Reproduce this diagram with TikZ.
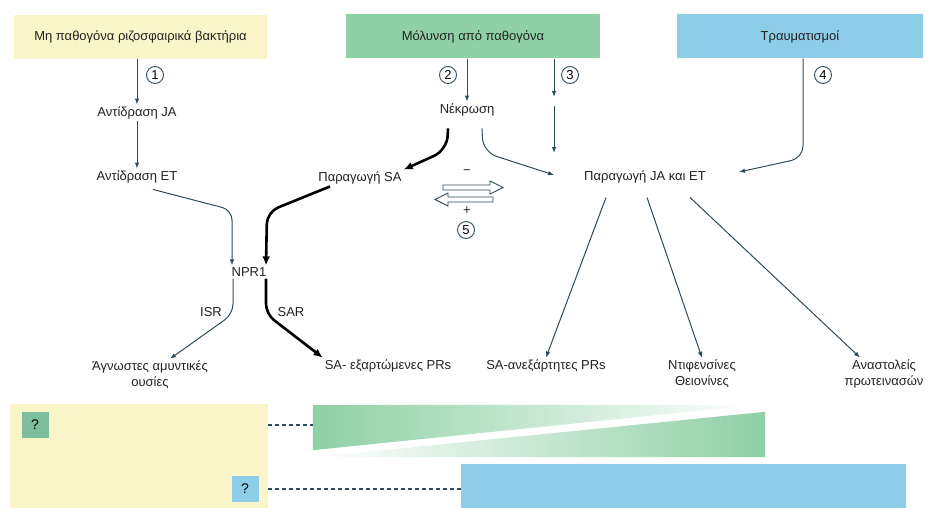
\documentclass[tikz,border=0pt]{standalone}
\usepackage{fontspec}
\setmainfont{Liberation Sans}
\usetikzlibrary{arrows.meta}
\definecolor{kitrino}{HTML}{FAF5C8}
\definecolor{prasino}{HTML}{8FD0A6}
\definecolor{ble}{HTML}{8ECDE8}
\definecolor{qprasino}{HTML}{7DBE9C}
\definecolor{grammi}{HTML}{2E4B5A}
\definecolor{keimeno}{HTML}{222222}
\tikzset{
  aitio/.style   = {rectangle, minimum height=44pt, inner sep=0, text=keimeno, font=\fontsize{13}{15}\selectfont},
  keim/.style    = {inner sep=2pt, align=center, text=keimeno, font=\fontsize{13}{16}\selectfont},
  arith/.style   = {circle, draw=grammi, line width=0.9pt, inner sep=0, minimum size=17pt, font=\fontsize{13}{15}\selectfont},
  lept/.style    = {draw=grammi, line width=1pt, -{Latex[length=6pt,width=4.5pt]}},
  pachy/.style   = {draw=black, line width=2.6pt, -{Latex[length=9pt,width=8pt]}},
  anoixto/.style = {draw=grammi, fill=white, line width=0.9pt, line join=miter},
  erot/.style    = {rectangle, inner sep=0, minimum width=27pt, minimum height=26pt, font=\fontsize{14}{16}\selectfont},
  diak/.style    = {draw=grammi, line width=1.2pt, dash pattern=on 4pt off 3pt},
  perioxi/.style = {rectangle, inner sep=0}
}
\begin{document}
\begin{tikzpicture}[x=1pt, y=-1pt]
  \useasboundingbox (0,0) rectangle (925,508);

  % ---------- aities (pano) ----------
  \node[aitio, fill=kitrino, minimum width=253pt] (bakt) at (140.5,37)  {Μη παθογόνα ριζοσφαιρικά βακτήρια};
  \node[aitio, fill=prasino, minimum width=254pt] (mol)  at (473,36.5)  {Μόλυνση από παθογόνα};
  \node[aitio, fill=ble,     minimum width=246pt] (trav) at (800,36.5)  {Τραυματισμοί};

  % ---------- endiamesa ----------
  \node[keim] (ja)   at (137,113) {Αντίδραση JA};
  \node[keim] (et)   at (137,177) {Αντίδραση ET};
  \node[keim] (nek)  at (467,110) {Νέκρωση};
  \node[keim] (sa)   at (360,178) {Παραγωγή SA};
  \node[keim] (jaet) at (645,177) {Παραγωγή JA και ET};
  \node[keim] (npr)  at (249,272) {NPR1};
  \node[keim] (isr)  at (211,312) {ISR};
  \node[keim] (sar)  at (291,312) {SAR};

  % ---------- apotelesmata ----------
  \node[keim] (agn)   at (150,375) {Άγνωστες αμυντικές\\ουσίες};
  \node[keim] (sadep) at (388,366) {SA- εξαρτώμενες PRs};
  \node[keim] (saind) at (546,366) {SA-ανεξάρτητες PRs};
  \node[keim] (nif)   at (702,374) {Ντιφενσίνες\\Θειονίνες};
  \node[keim] (ana)   at (884,374) {Αναστολείς\\πρωτεινασών};

  % ---------- arithmoi ----------
  \node[arith] (n1) at (155,75)  {1};
  \node[arith] (n2) at (448,75)  {2};
  \node[arith] (n3) at (570,75)  {3};
  \node[arith] (n4) at (823,75)  {4};
  \node[arith] (n5) at (466,230) {5};
  \node[keim]  (plin) at (467,172) {−};
  \node[keim]  (syn)  at (467,211) {+};

  % ---------- velh ----------
  \draw[lept] (bakt.south -| ja) -- (ja);
  \draw[lept] (ja) -- (et);
  \draw[lept] (mol.south -| nek) -- (nek);
  \coordinate (p3a) at (554,97);
  \coordinate (p3b) at (554,106);
  \coordinate (p3c) at (554,153);
  \draw[lept] (mol.south -| p3a) -- (p3a);
  \draw[lept] (p3b) -- (p3c);
  \draw[lept, rounded corners=12pt] (trav.south -| 803,0) -- (803,158) -- ([shift={(31,-5)}]jaet.east);

  \draw[pachy, rounded corners=14pt] ([shift={(-19,10)}]nek.south) -- (447,150) -- (sa.north east);
  \draw[lept, rounded corners=14pt] ([shift={(15,10)}]nek.south) -- (483,152) -- ([shift={(-28,-2)}]jaet.west);

  \draw[lept, rounded corners=10pt] ([shift={(16,4)}]et.south) -- (232,210) -- ([xshift=-17pt]npr.north);
  \draw[pachy, rounded corners=12pt] ([xshift=-30pt]sa.south) -- (267,212) -- ([xshift=17pt]npr.north);

  \draw[lept, rounded corners=10pt] ([xshift=-16pt]npr.south) -- (233,314) -- ([xshift=20pt]agn.north);
  \draw[pachy, rounded corners=10pt] ([xshift=17pt]npr.south) -- (266,314) -- (sadep.north west);

  \draw[lept] ([shift={(-39,12)}]jaet.south) -- (saind.north);
  \draw[lept] ([shift={(2,12)}]jaet.south) -- (nif.north);
  \draw[lept] ([shift={(45,12)}]jaet.south) -- ([xshift=-24pt]ana.north);

  % antitheta velh (5)
  \draw[anoixto] (443,185) -- (490,185) -- (490,181) -- (503,187.5) -- (490,194) -- (490,190) -- (443,190) -- cycle;
  \draw[anoixto] (493,197) -- (448,197) -- (448,193) -- (435,199.5) -- (448,206) -- (448,202) -- (493,202) -- cycle;

  % ---------- kato meros ----------
  \node[perioxi, fill=kitrino, minimum width=258pt, minimum height=104pt] (yb) at (139,456) {};
  \node[perioxi, fill=ble, minimum width=445pt, minimum height=44pt] (bb) at (683.5,486) {};
  \node[perioxi, minimum width=452pt, minimum height=52pt] (gr) at (539,431) {};
  \shade[left color=prasino, right color=white] (gr.north west) -- ([xshift=-8pt]gr.north east) -- ([yshift=7pt]gr.south west) -- cycle;
  \shade[left color=white, right color=prasino] (gr.south west) -- ([yshift=-7pt]gr.north east) -- (gr.south east) -- cycle;

  \node[erot, fill=qprasino] (q1) at (35,425)  {?};
  \node[erot, fill=ble]      (q2) at (245,489) {?};
  \draw[diak] (yb.east |- q1) -- (gr.west |- q1);
  \draw[diak] (yb.east |- q2) -- (bb.west |- q2);

\end{tikzpicture}
\end{document}
